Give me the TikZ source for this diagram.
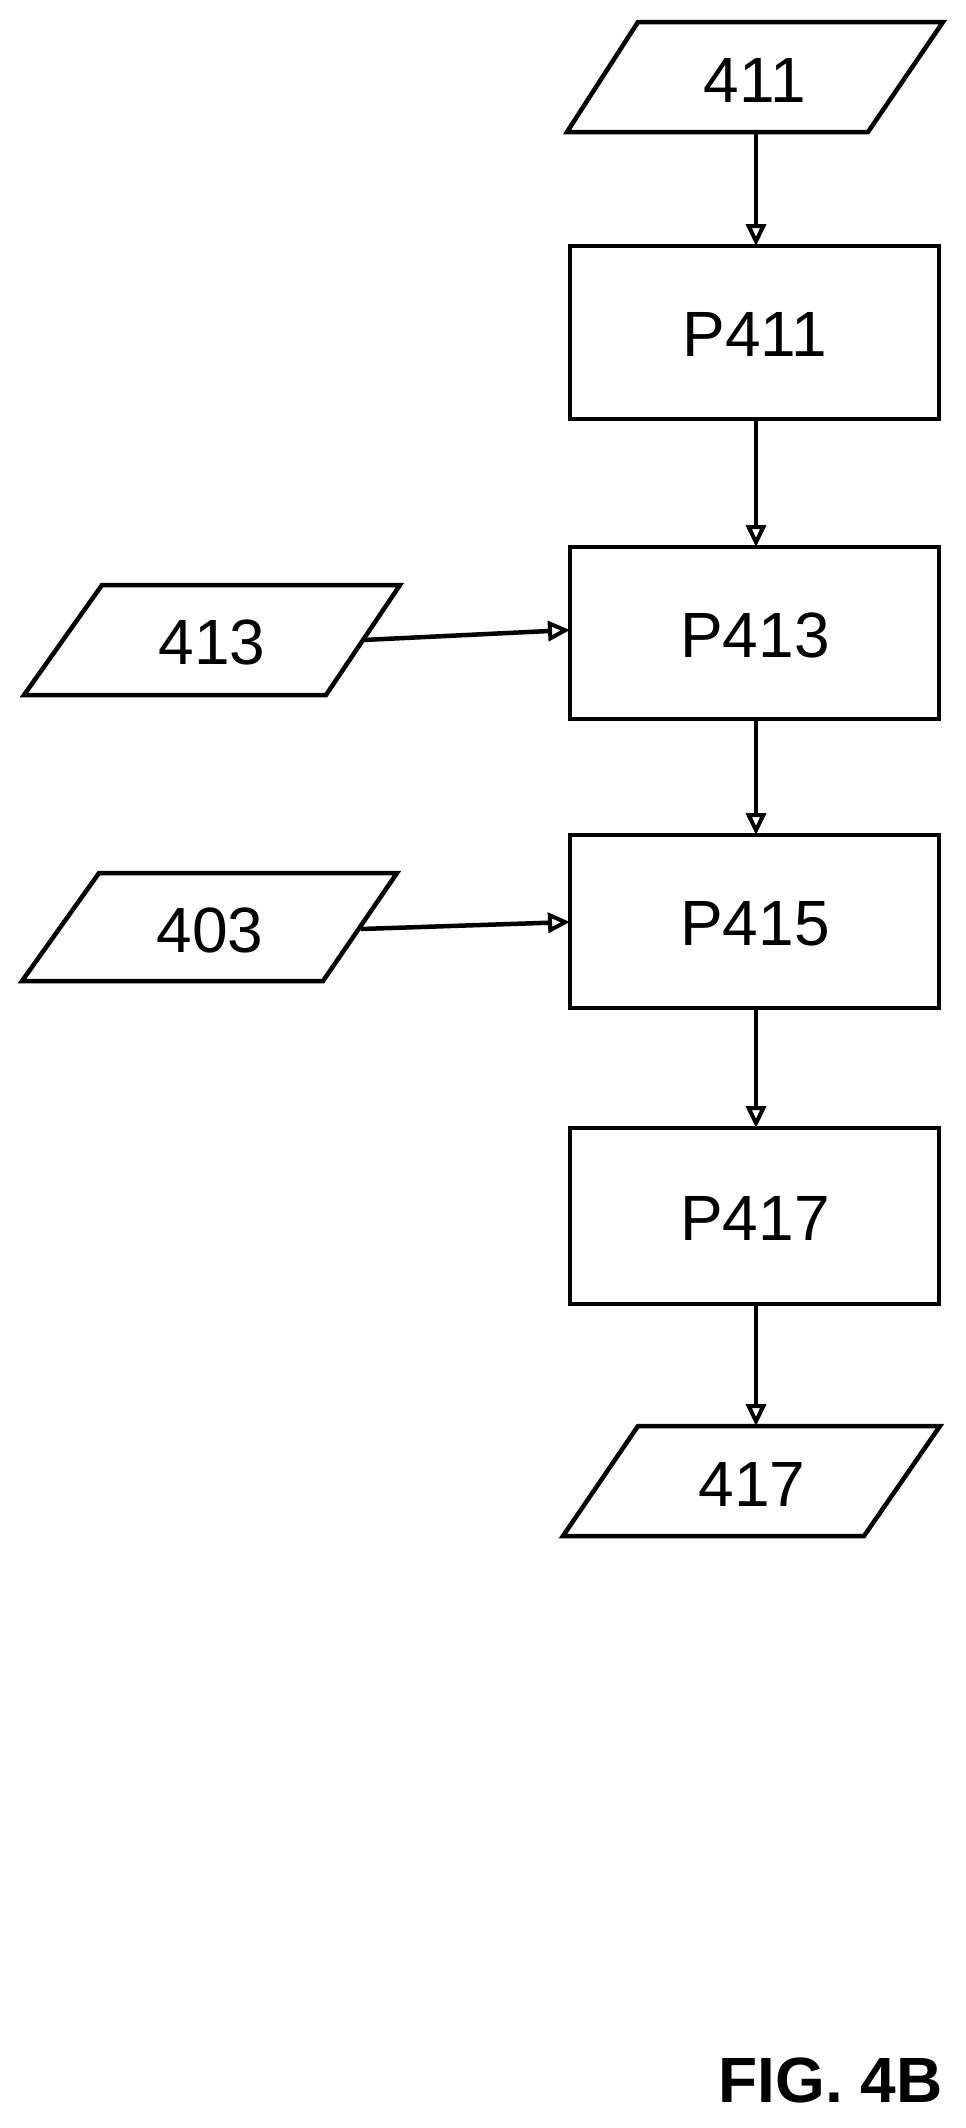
\documentclass[tikz,border=0pt]{standalone}
\usepackage{fontspec}
\setmainfont{Liberation Sans}
\usetikzlibrary{arrows.meta}
\begin{document}
\begin{tikzpicture}[x=1pt,y=-1pt,
  shp/.style={line width=4.5pt,line join=miter},
  lbl/.style={font=\fontsize{64}{70}\selectfont,inner sep=0pt},
  arr/.style={line width=4.5pt,-{Triangle[length=22pt,width=20pt,open,line width=4pt]}}]
\useasboundingbox (0,0) rectangle (966,2128);
% 411
\draw[shp] (638,22) -- (943,22) -- (868,132) -- (567,132) -- cycle;
\node[lbl] (i411) at (755,80) {411};
\coordinate (i411b) at (756,132);
% P411
\draw[shp] (570,246) rectangle (939,419);
\node[lbl] (p411) at (755,334) {P411};
\coordinate (p411t) at (756,246); \coordinate (p411b) at (756,419);
% P413
\draw[shp] (570,547) rectangle (939,719);
\node[lbl] (p413) at (755,635) {P413};
\coordinate (p413t) at (756,547); \coordinate (p413b) at (756,719);
\coordinate (p413l) at (570,630);
% 413
\draw[shp] (102,585) -- (400,585) -- (326,695) -- (24,695) -- cycle;
\node[lbl] (i413) at (212,642) {413};
\coordinate (i413r) at (363,640);
% P415
\draw[shp] (570,835) rectangle (939,1008);
\node[lbl] (p415) at (755,924) {P415};
\coordinate (p415t) at (756,835); \coordinate (p415b) at (756,1008);
\coordinate (p415l) at (570,922);
% 403
\draw[shp] (99,873) -- (397,873) -- (323,981) -- (22,981) -- cycle;
\node[lbl] (i403) at (210,930) {403};
\coordinate (i403r) at (361,929);
% P417
\draw[shp] (570,1128) rectangle (939,1304);
\node[lbl] (p417) at (755,1218) {P417};
\coordinate (p417t) at (756,1128); \coordinate (p417b) at (756,1304);
% 417
\draw[shp] (638,1426) -- (940,1426) -- (864,1536) -- (563,1536) -- cycle;
\node[lbl] (i417) at (752,1484) {417};
\coordinate (i417t) at (756,1426);
% FIG
\node[lbl,font=\fontsize{64}{70}\selectfont\bfseries,anchor=east] (fig) at (943,2080) {FIG. 4B};
% arrows
\draw[arr] (i411b) -- (p411t);
\draw[arr] (p411b) -- (p413t);
\draw[arr] (p413b) -- (p415t);
\draw[arr] (p415b) -- (p417t);
\draw[arr] (p417b) -- (i417t);
\draw[arr] (i413r) -- (p413l);
\draw[arr] (i403r) -- (p415l);
\end{tikzpicture}
\end{document}
